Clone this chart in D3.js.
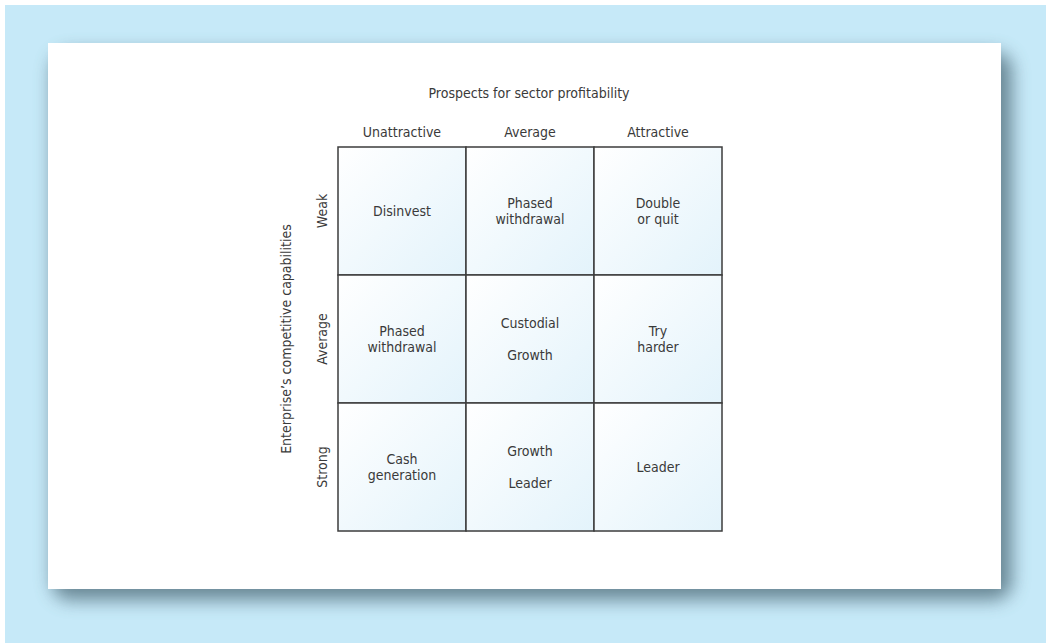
<!DOCTYPE html>
<html>
<head>
<meta charset="utf-8">
<script src="https://cdn.jsdelivr.net/npm/d3@7"></script>
<style>
html,body{margin:0;padding:0;background:#fff;}
svg{display:block;}
text{font-family:"DejaVu Sans Condensed","Liberation Sans Narrow",sans-serif;fill:#3a3a3a;}
</style>
</head>
<body>
<script>
const title = "Prospects for sector profitability";
const yTitle = "Enterprise\u2019s competitive capabilities";
const columns = ["Unattractive", "Average", "Attractive"];
const rows = ["Weak", "Average", "Strong"];
const cellLabels = [
  [["Disinvest"], ["Phased", "withdrawal"], ["Double", "or quit"]],
  [["Phased", "withdrawal"], ["Custodial", "", "Growth"], ["Try", "harder"]],
  [["Cash", "generation"], ["Growth", "", "Leader"], ["Leader"]]
];

const W = 1046, H = 643;
const svg = d3.select("body").append("svg").attr("width", W).attr("height", H);
const defs = svg.append("defs");

const f = defs.append("filter").attr("id", "sh").attr("x", "-10%").attr("y", "-10%").attr("width", "120%").attr("height", "120%");
f.append("feGaussianBlur").attr("stdDeviation", 9);

const g = defs.append("linearGradient").attr("id", "cellg").attr("x1", "0").attr("y1", "0").attr("x2", "1").attr("y2", "1");
g.append("stop").attr("offset", "0").attr("stop-color", "#ffffff");
g.append("stop").attr("offset", "1").attr("stop-color", "#e3f3fb");

// background
svg.append("rect").attr("x", 5).attr("y", 5).attr("width", W - 5).attr("height", H - 5).attr("fill", "#c6e9f8");
// shadow
svg.append("rect").attr("x", 52).attr("y", 52).attr("width", 960).attr("height", 548).attr("rx", 18)
  .attr("fill", "#5f7d8a").attr("opacity", 0.9).attr("filter", "url(#sh)");
// card
svg.append("rect").attr("x", 48).attr("y", 43).attr("width", 953).attr("height", 546).attr("fill", "#ffffff");

const x = d3.scaleBand().domain(columns).range([338, 722]);
const y = d3.scaleBand().domain(rows).range([147, 531]);

const fs = 14;
const grid = svg.append("g");
rows.forEach((r, i) => {
  columns.forEach((c, j) => {
    const cx = x(c) + x.bandwidth() / 2, cy = y(r) + y.bandwidth() / 2;
    grid.append("rect").attr("x", x(c)).attr("y", y(r)).attr("width", x.bandwidth()).attr("height", y.bandwidth())
      .attr("fill", "url(#cellg)").attr("stroke", "#3d3d3d").attr("stroke-width", 1.5);
    const lines = cellLabels[i][j];
    const lh = 16;
    const t = grid.append("text").attr("text-anchor", "middle").attr("font-size", fs);
    lines.forEach((l, k) => {
      t.append("tspan").attr("x", cx).attr("y", cy + (k - (lines.length - 1) / 2) * lh + 5).text(l);
    });
  });
});

// column labels
svg.append("g").selectAll("text").data(columns).join("text")
  .attr("x", d => x(d) + x.bandwidth() / 2).attr("y", 137)
  .attr("text-anchor", "middle").attr("font-size", fs).text(d => d);

// row labels
svg.append("g").selectAll("text").data(rows).join("text")
  .attr("transform", d => `translate(327,${y(d) + y.bandwidth() / 2}) rotate(-90)`)
  .attr("text-anchor", "middle").attr("font-size", fs).text(d => d);

svg.append("text").attr("x", 529).attr("y", 98).attr("text-anchor", "middle").attr("font-size", fs).text(title);
svg.append("text").attr("transform", `translate(291,339) rotate(-90)`).attr("text-anchor", "middle").attr("font-size", fs).text(yTitle);
</script>
</body>
</html>
